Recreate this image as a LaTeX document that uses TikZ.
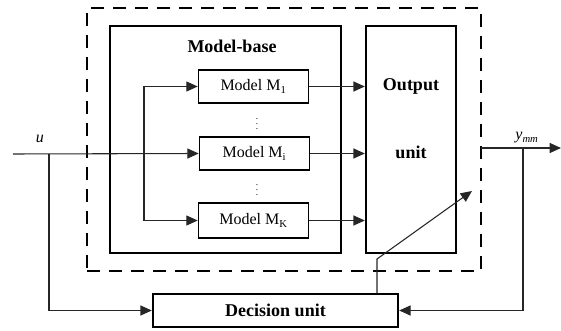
\documentclass[tikz,border=0pt]{standalone}
\usepackage{fontspec}
\setmainfont{Liberation Serif}
\usetikzlibrary{arrows.meta}
\begin{document}
\begin{tikzpicture}[x=0.75pt,y=-0.75pt,
    box/.style={draw,inner sep=0pt,line width=#1},
    box/.default=1.2pt,
    wire/.style={draw=black!85,line width=0.8pt},
    arr/.style={wire,-{Triangle[length=8.5pt,width=7.5pt]}},
    bigtext/.style={font=\fontsize{13.5}{15}\selectfont\bfseries},
    smalltext/.style={font=\fontsize{12}{13}\selectfont}]
    \useasboundingbox (0,0) rectangle (561,331);
    % boxes
    \node[box=2.2pt,dash pattern=on 10pt off 6.5pt,minimum width=295.5pt,minimum height=197.25pt] (ctrl) at (284,139.5) {};
    \node[box=1.8pt,minimum width=173.25pt,minimum height=170.25pt] (base) at (225.5,139.5) {};
    \node[box=1.8pt,minimum width=67.5pt,minimum height=170.25pt] (out) at (411,139.5) {};
    \node[box,smalltext,minimum width=82.5pt,minimum height=24.75pt] (m1) at (253.5,86.5) {Model M\textsubscript{1}};
    \node[box,smalltext,minimum width=82.5pt,minimum height=24.75pt] (mi) at (254.5,153.5) {Model M\textsubscript{i}};
    \node[box,smalltext,minimum width=82.5pt,minimum height=26.25pt] (mk) at (253.5,220.5) {Model M\textsubscript{K}};
    \node[box=1.8pt,bigtext,minimum width=183.75pt,minimum height=24.75pt] (dec) at (275.5,310.5) {Decision unit};
    % texts
    \node[bigtext] (basetxt) at (232,46) {Model-base};
    \node[bigtext] (outtxt) at (411,86) {Output};
    \node[bigtext] (unittxt) at (411,152) {unit};
    \node[font=\scriptsize,inner sep=0pt] (dots1) at (257,120) {$\vdots$};
    \node[font=\scriptsize,inner sep=0pt] (dots2) at (257,186) {$\vdots$};
    \node[smalltext] (ulbl) at (40,139) {\textit{u}};
    \node[smalltext] (ylbl) at (527,138) {\textit{y}\textsubscript{\textit{mm}}};
    % input side
    \coordinate (uin) at (13,154);
    \coordinate (ubr) at (49,154);
    \coordinate (fb) at (144,154);
    \draw[arr] (uin) -- (mi.west);
    \draw[arr] (ubr) |- (dec.west);
    \draw[arr] (fb) |- (m1.west);
    \draw[arr] (fb) |- (mk.west);
    % models to output unit
    \draw[arr] (m1.east) -- (m1.east -| out.west);
    \draw[arr] (mi.east) -- (mi.east -| out.west);
    \draw[arr] (mk.east) -- (mk.east -| out.west);
    % output side
    \coordinate (yout) at (481,148);
    \coordinate (yend) at (561,148);
    \coordinate (ybr) at (523,148);
    \draw[arr] (yout) -- (yend);
    \draw[arr] (ybr) |- (dec.east);
    % decision unit switching the output
    \coordinate (sw) at (377,259);
    \coordinate (swtip) at (472,191);
    \draw[arr] (sw |- dec.north) -- (sw) -- (swtip);
\end{tikzpicture}
\end{document}
